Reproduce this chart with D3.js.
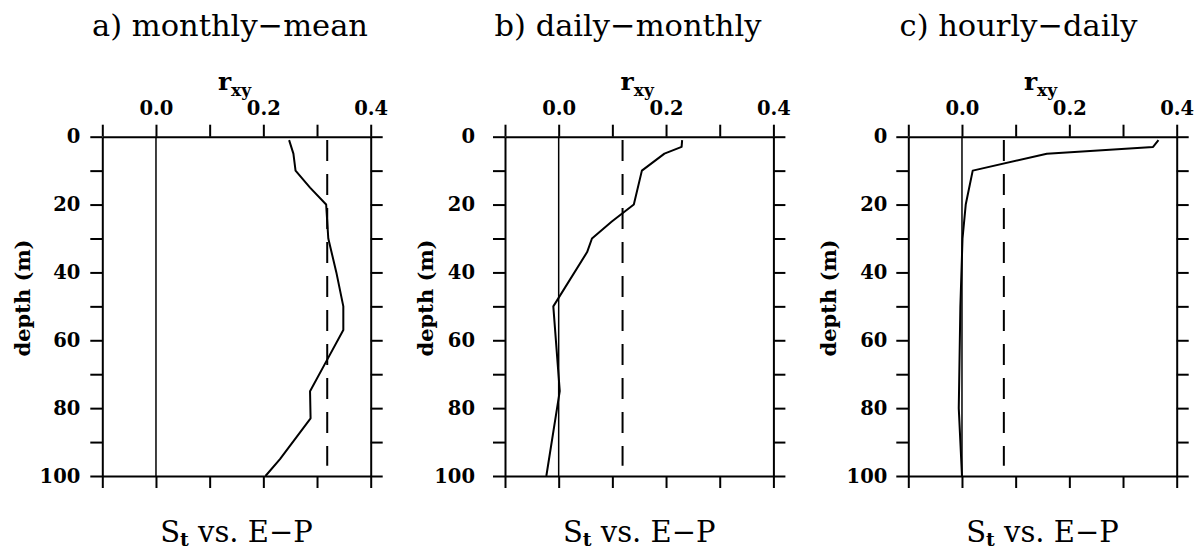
<!DOCTYPE html>
<html>
<head>
<meta charset="utf-8">
<script src="https://cdn.jsdelivr.net/npm/d3@7"></script>
<style>
  html, body { margin: 0; padding: 0; background: #fff; }
  svg { display: block; }
  text { font-family: "DejaVu Serif", "Liberation Serif", serif; fill: #000; }
</style>
</head>
<body>
<svg id="chart" width="1197" height="551"></svg>
<script>
// ---------------- data ----------------
const panelTitles = ["a) monthly\u2212mean", "b) daily\u2212monthly", "c) hourly\u2212daily"];

const depthA = [1, 5, 10, 15, 20, 30, 40, 50, 57, 66, 75, 83, 95, 100];
const rA     = [0.248, 0.256, 0.260, 0.287, 0.317, 0.321, 0.336, 0.349, 0.349, 0.318, 0.287, 0.288, 0.231, 0.204];

const depthB = [1, 3, 5, 10, 20, 25, 30, 34, 50, 75, 100];
const rB     = [0.230, 0.229, 0.197, 0.155, 0.140, 0.099, 0.062, 0.053, -0.010, 0.002, -0.023];

const depthC = [1, 3, 5, 10, 20, 30, 50, 80, 100];
const rC     = [0.366, 0.356, 0.158, 0.020, 0.007, 0.001, -0.003, -0.006, 0.000];

// significance level (dashed line) per panel
const sigLevels = [0.319, 0.119, 0.078];
const sigDepthRange = [1, 97];

// axis ticks
const xTicks = [-0.1, 0.0, 0.1, 0.2, 0.3, 0.4];
const xLabelTicks = [0.0, 0.2, 0.4];
const yTicks = [0, 10, 20, 30, 40, 50, 60, 70, 80, 90, 100];
const yLabelTicks = [0, 20, 40, 60, 80, 100];

const xDomain = [-0.1, 0.4];
const yDomain = [0, 100];

// ---------------- layout ----------------
const boxLefts = [102.3, 505, 908.3];
const boxWidth = 268.4;
const boxTop = 136.7, boxBottom = 476;
const titleX = [230, 628, 1018.5];
const yLabelPad = [10, 18, 9];

const panels = [
  {depth: depthA, r: rA},
  {depth: depthB, r: rB},
  {depth: depthC, r: rC}
];

const svg = d3.select("#chart");

panels.forEach((p, i) => {
  const x0 = boxLefts[i], x1 = x0 + boxWidth;
  const xs = d3.scaleLinear().domain(xDomain).range([x0, x1]);
  const ys = d3.scaleLinear().domain(yDomain).range([boxTop, boxBottom]);
  const g = svg.append("g");

  const fmtX = d => xLabelTicks.some(v => Math.abs(v - d) < 1e-9) ? d3.format(".1f")(d) : "";
  const fmtY = d => yLabelTicks.includes(d) ? String(d) : "";

  const styleAxis = (sel) => {
    sel.selectAll("path.domain").attr("stroke", "#000").attr("stroke-width", 2);
    sel.selectAll(".tick line").attr("stroke", "#000").attr("stroke-width", 2);
    sel.selectAll(".tick text")
      .style("font-family", '"DejaVu Serif", serif')
      .style("font-weight", "bold")
      .style("font-size", "19.5px")
      .attr("fill", "#000");
  };

  // top axis
  g.append("g").attr("transform", `translate(0,${boxTop})`)
    .call(d3.axisTop(xs).tickValues(xTicks).tickFormat(fmtX).tickSizeInner(12).tickSizeOuter(0).tickPadding(10))
    .call(styleAxis);
  // bottom axis
  g.append("g").attr("transform", `translate(0,${boxBottom})`)
    .call(d3.axisBottom(xs).tickValues(xTicks).tickFormat("").tickSizeInner(12).tickSizeOuter(0))
    .call(styleAxis);
  // left axis
  g.append("g").attr("transform", `translate(${x0},0)`)
    .call(d3.axisLeft(ys).tickValues(yTicks).tickFormat(fmtY).tickSizeInner(12).tickSizeOuter(0).tickPadding(yLabelPad[i]))
    .call(styleAxis);
  // right axis
  g.append("g").attr("transform", `translate(${x1},0)`)
    .call(d3.axisRight(ys).tickValues(yTicks).tickFormat("").tickSizeInner(12).tickSizeOuter(0))
    .call(styleAxis);

  // zero line
  g.append("line")
    .attr("x1", xs(0)).attr("x2", xs(0))
    .attr("y1", ys(0)).attr("y2", ys(100))
    .attr("stroke", "#000").attr("stroke-width", 1.5);

  // significance dashed line
  g.append("line")
    .attr("x1", xs(sigLevels[i])).attr("x2", xs(sigLevels[i]))
    .attr("y1", ys(sigDepthRange[0])).attr("y2", ys(sigDepthRange[1]))
    .attr("stroke", "#000").attr("stroke-width", 2)
    .attr("stroke-dasharray", "21,13");

  // profile curve
  const pts = p.depth.map((d, k) => [p.r[k], d]);
  g.append("path")
    .datum(pts)
    .attr("fill", "none")
    .attr("stroke", "#000")
    .attr("stroke-width", 2)
    .attr("stroke-linejoin", "round")
    .attr("d", d3.line().x(d => xs(d[0])).y(d => ys(d[1])));

  const cx = (x0 + x1) / 2;

  // panel title
  svg.append("text")
    .attr("x", titleX[i]).attr("y", 36)
    .attr("text-anchor", "middle")
    .style("font-size", "30.5px")
    .text(panelTitles[i]);

  // r_xy label
  const rl = svg.append("text")
    .attr("x", cx - 2).attr("y", 90)
    .attr("text-anchor", "middle")
    .style("font-weight", "bold")
    .style("font-size", "25px");
  rl.append("tspan").text("r");
  rl.append("tspan").attr("dy", 6).style("font-size", "17px").text("xy");

  // depth label
  svg.append("text")
    .attr("transform", `translate(${x0 - 72},${298}) rotate(-90)`)
    .attr("text-anchor", "middle")
    .style("font-weight", "bold")
    .style("font-size", "21px")
    .text("depth (m)");

  // bottom label
  const bl = svg.append("text")
    .attr("x", cx).attr("y", 542)
    .attr("text-anchor", "middle")
    .style("font-size", "29px");
  bl.append("tspan").text("S");
  bl.append("tspan").attr("dy", 4).style("font-size", "19px").style("font-weight", "bold").text("t");
  bl.append("tspan").attr("dy", -4).text(" vs. E\u2212P");
});
</script>
</body>
</html>
